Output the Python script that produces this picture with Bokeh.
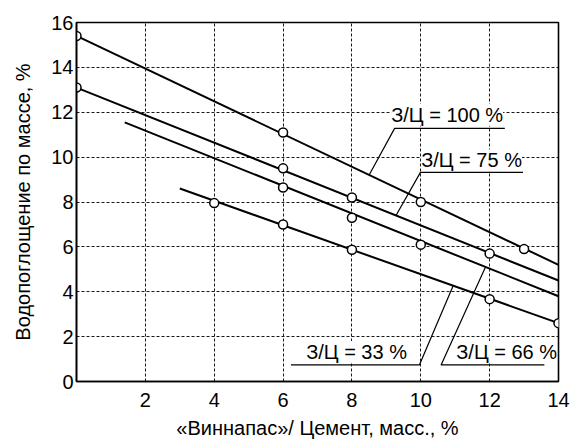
from bokeh.plotting import figure
from bokeh.models import FixedTicker, Label
from bokeh.embed import file_html
from bokeh.resources import INLINE

# ---- data ----
series_names = ["З/Ц = 100 %", "З/Ц = 75 %", "З/Ц = 66 %", "З/Ц = 33 %"]

x_100 = [0, 6, 10, 13]
y_100 = [15.4, 11.1, 8.0, 5.9]

x_75 = [0, 6, 8, 12]
y_75 = [13.1, 9.5, 8.2, 5.7]

x_66 = [6, 8, 10]
y_66 = [8.65, 7.3, 6.1]

x_33 = [4, 6, 8, 12, 14]
y_33 = [7.95, 7.0, 5.87, 3.67, 2.6]

# trend lines (start / end)
trend_x0 = [0, 0, 1.4, 3.0]
trend_y0 = [15.4, 13.1, 11.55, 8.6]
trend_x1 = [14, 14, 14, 14]
trend_y1 = [5.2, 4.5, 3.8, 2.6]

x_ticks = [2, 4, 6, 8, 10, 12, 14]
y_ticks = [0, 2, 4, 6, 8, 10, 12, 14, 16]

FONT = "Liberation Sans"

p = figure(frame_width=482, frame_height=359, x_range=(0, 14), y_range=(0, 16),
           output_backend="svg", toolbar_location=None,
           min_border_left=76, min_border_right=15, min_border_top=22,
           min_border_bottom=60)

p.background_fill_color = "white"
p.border_fill_color = "white"
p.outline_line_color = "black"
p.outline_line_width = 1.6

for ax in (p.xaxis[0], p.yaxis[0]):
    ax.axis_line_color = "black"
    ax.axis_line_width = 1.6
    ax.major_tick_in = 0
    ax.major_tick_out = 0
    ax.minor_tick_in = 0
    ax.minor_tick_out = 0
    ax.major_label_text_font = FONT
    ax.major_label_text_font_size = "20px"
    ax.major_label_text_color = "black"
    ax.axis_label_text_font = FONT
    ax.axis_label_text_font_style = "normal"
    ax.axis_label_text_color = "black"

p.xaxis.ticker = FixedTicker(ticks=x_ticks)
p.yaxis.ticker = FixedTicker(ticks=y_ticks)
p.xgrid.ticker = FixedTicker(ticks=x_ticks)
p.ygrid.ticker = FixedTicker(ticks=y_ticks)
p.xaxis.major_label_standoff = 11
p.yaxis.major_label_standoff = 3
p.xaxis.axis_label = "«Виннапас»/ Цемент, масс., %"
p.yaxis.axis_label = "Водопоглощение по массе, %"
p.xaxis.axis_label_text_font_size = "20px"
p.yaxis.axis_label_text_font_size = "20px"
p.xaxis.axis_label_standoff = 7
p.yaxis.axis_label_standoff = 14

for g in (p.xgrid[0], p.ygrid[0]):
    g.grid_line_color = "black"
    g.grid_line_width = 1
    g.grid_line_dash = "3 2"
    g.grid_line_alpha = 0.9

# trend lines
for i in range(4):
    p.line([trend_x0[i], trend_x1[i]], [trend_y0[i], trend_y1[i]],
           line_color="black", line_width=2)

# measured points
for xs, ys in ((x_100, y_100), (x_75, y_75), (x_66, y_66), (x_33, y_33)):
    p.scatter(xs, ys, marker="circle", size=9, fill_color="white",
              line_color="black", line_width=1.5)


def trend_at(i, x):
    return trend_y0[i] + (trend_y1[i] - trend_y0[i]) * (x - trend_x0[i]) / (trend_x1[i] - trend_x0[i])


# annotation layout: (series index, text x, text y, underline far x, underline near x, underline y, leader x)
layout = [
    (0, 9.14, 11.89, 12.44, 9.24, 11.28, 8.50),
    (1, 10.01, 9.85, 12.97, 9.99, 9.32, 9.28),
    (3, 6.67, 1.32, 6.23, 9.96, 0.74, 10.94),
    (2, 11.03, 1.32, 13.59, 10.59, 0.74, 11.88),
]
for i, tx, ty, ux_far, ux_near, uy, lx in layout:
    p.add_layout(Label(x=tx, y=ty, text=series_names[i], text_font=FONT,
                       text_font_size="20px", text_color="black",
                       text_baseline="alphabetic", text_align="left",
                       background_fill_color="white"))
    p.line([ux_far, ux_near, lx], [uy, uy, trend_at(i, lx)],
           line_color="black", line_width=1.2, level="overlay")

open("out.html", "w").write(file_html(p, INLINE))
